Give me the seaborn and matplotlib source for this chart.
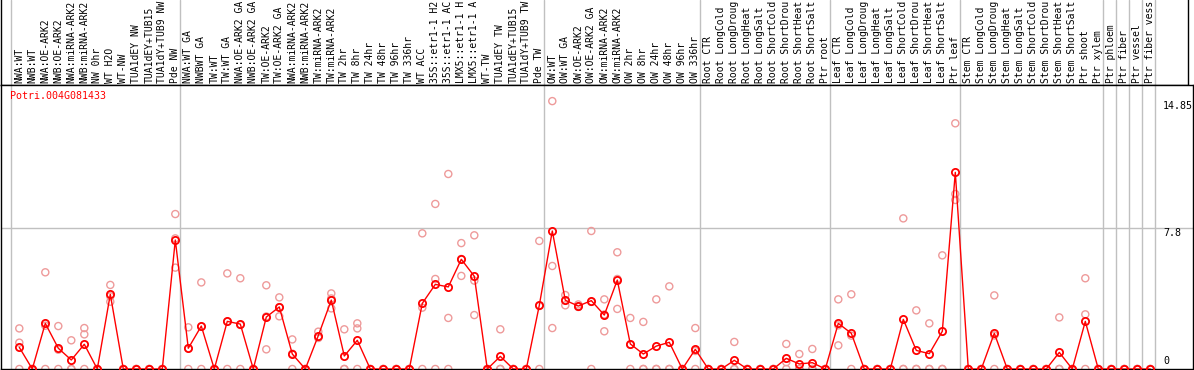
import numpy as np
import pandas as pd
import matplotlib
matplotlib.use('Agg')
import matplotlib.pyplot as plt
import matplotlib.transforms as mtransforms
import seaborn as sns

# ============================================================
# DATA
# ============================================================

GENE = 'Potri.004G081433'

SAMPLES = [
    'NWA:WT', 'NWB:WT', 'NWA:OE-ARK2', 'NWB:OE-ARK2', 'NWA:miRNA-ARK2',
    'NWB:miRNA-ARK2', 'NW 0hr', 'WT H2O', 'WT-NW', 'TUA1dEY NW',
    'TUA1dEY+TUB15', 'TUA1dY+TUB9 NW', 'Pde NW',
    'NWA:WT GA', 'NWBWT GA', 'TW:WT', 'TW:WT GA', 'NWA:OE-ARK2 GA',
    'NWB:OE-ARK2 GA', 'TW:OE-ARK2', 'TW:OE-ARK2 GA', 'NWA:miRNA-ARK2',
    'NWB:miRNA-ARK2', 'TW:miRNA-ARK2', 'TW:miRNA-ARK2', 'TW 2hr', 'TW 8hr',
    'TW 24hr', 'TW 48hr', 'TW 96hr', 'TW 336hr', 'WT ACC', '35S::etr1-1 H2',
    '35S::etr1-1 AC', 'LMX5::etr1-1 H', 'LMX5::etr1-1 A', 'WT-TW',
    'TUA1dEY TW', 'TUA1dEY+TUB15', 'TUA1dY+TUB9 TW', 'Pde TW',
    'OW:WT', 'OW:WT GA', 'OW:OE-ARK2', 'OW:OE-ARK2 GA', 'OW:miRNA-ARK2',
    'OW:miRNA-ARK2', 'OW 2hr', 'OW 8hr', 'OW 24hr', 'OW 48hr', 'OW 96hr',
    'OW 336hr',
    'Root CTR', 'Root LongCold', 'Root LongDroug', 'Root LongHeat',
    'Root LongSalt', 'Root ShortCold', 'Root ShortDrou', 'Root ShortHeat',
    'Root ShortSalt', 'Ptr root',
    'Leaf CTR', 'Leaf LongCold', 'Leaf LongDroug', 'Leaf LongHeat',
    'Leaf LongSalt', 'Leaf ShortCold', 'Leaf ShortDrou', 'Leaf ShortHeat',
    'Leaf ShortSalt', 'Ptr leaf',
    'Stem CTR', 'Stem LongCold', 'Stem LongDroug', 'Stem LongHeat',
    'Stem LongSalt', 'Stem ShortCold', 'Stem ShortDrou', 'Stem ShortHeat',
    'Stem ShortSalt', 'Ptr shoot', 'Ptr xylem',
    'Ptr phloem', 'Ptr fiber', 'Ptr vessel', 'Ptr fiber vess',
]

# index of the first sample of every group (vertical separators)
GROUP_STARTS = [0, 13, 41, 53, 63, 73, 84, 85, 86, 87, 88]

MEANS = [
    1.20, 0, 2.53, 1.15, 0.50, 1.37, 0, 4.14, 0, 0, 0, 0, 7.15,
    1.15, 2.38, 0, 2.64, 2.49, 0, 2.88, 3.44, 0.83, 0, 1.85, 3.82, 0.72,
    1.59, 0, 0, 0, 0, 3.64, 4.69, 4.55, 6.08, 5.14, 0, 0.70, 0, 0, 3.53,
    7.65, 3.81, 3.49, 3.79, 2.99, 4.93, 1.39, 0.83, 1.27, 1.48, 0, 1.09,
    0, 0, 0.48, 0, 0, 0, 0.59, 0.28, 0.35, 0,
    2.53, 1.98, 0, 0, 0, 2.75, 1.03, 0.85, 2.09, 10.90,
    0, 0, 1.98, 0, 0, 0, 0, 0.92, 0, 2.64, 0,
    0, 0, 0, 0,
]

REP_1 = [
    2.25, 0, 5.36, 2.38, 1.59, 2.27, 0, 4.66, 0, 0, 0, 0, 8.59,
    2.31, 4.80, 0, 5.30, 5.03, 0, 4.64, 3.97, 1.64, 0, 2.07, 4.19, 2.20,
    2.53, 0, 0, 0, 0, 7.52, 9.15, 10.81, 6.98, 7.41, 0, 2.20, 0, 0, 7.10,
    14.85, 4.10, 3.58, 7.65, 3.86, 6.47, 2.83, 2.61, 3.86, 4.58, 0, 2.27,
    0, 0, 1.50, 0, 0, 0, 1.39, 0.83, 1.11, 0,
    3.86, 4.14, 0, 0, 0, 8.35, 3.25, 2.53, 6.30, 13.62,
    0, 0, 4.08, 0, 0, 0, 0, 2.86, 0, 5.03, 0,
    0, 0, 0, 0,
]

REP_2 = [
    1.46, 0, 2.40, 1.07, 0, 1.92, 0, 4.03, 0, 0, 0, 0, 7.24,
    1.14, 2.34, 0, 2.62, 2.44, 0, 2.91, 3.43, 0.85, 0, 1.76, 3.91, 0,
    2.25, 0, 0, 0, 0, 3.40, 4.99, 2.83, 6.10, 4.90, 0, 0, 0, 0, 3.49,
    5.71, 3.80, 3.45, 3.72, 3.02, 4.99, 1.34, 0, 0, 0, 0, 1.00,
    0, 0, 0, 0, 0, 0, 0.38, 0, 0, 0,
    2.42, 1.85, 0, 0, 0, 0, 0, 0, 0, 9.70,
    0, 0, 1.86, 0, 0, 0, 0, 0, 0, 3.03, 0,
    0, 0, 0, 0,
]

REP_3 = [
    0, 0, 0, 0, 0, 0, 0, 3.73, 0, 0, 0, 0, 5.62,
    0, 0, 0, 0, 0, 0, 1.09, 2.92, 0, 0, 1.72, 3.36, 0,
    0, 0, 0, 0, 0, 0, 0, 0, 5.16, 2.99, 0, 0, 0, 0, 0,
    2.27, 3.53, 3.44, 0, 2.09, 3.33, 0, 0, 0, 0, 0, 0,
    0, 0, 0, 0, 0, 0, 0, 0, 0, 0,
    1.31, 0, 0, 0, 0, 0, 0, 0, 0, 9.37,
    0, 0, 0, 0, 0, 0, 0, 0, 0, 0, 0,
    0, 0, 0, 0,
]

Y_TICKS = [14.85, 7.8, 0]
Y_TICK_LABELS = ['14.85', '7.8', '0']

# ============================================================
# TABLES
# ============================================================

pos = np.arange(len(SAMPLES))
mean_df = pd.DataFrame({'pos': pos, 'value': MEANS})
rep_df = pd.concat([
    pd.DataFrame({'pos': pos, 'value': r}) for r in (REP_1, REP_2, REP_3)
], ignore_index=True)

# ============================================================
# FIGURE LAYOUT (pixel based, 1194 x 370)
# ============================================================

sns.set_style('white')
plt.rcParams['font.family'] = ['DejaVu Sans Mono', 'DejaVu Sans']

W, H = 1194, 370
X0, STEP = 19.3, 13.0          # pixel of sample 0, pixel step between samples
LAB_H = 85                     # height of label strip

fig = plt.figure(figsize=(W / 100, H / 100), dpi=100)

ax_lab = fig.add_axes([1 / W, (H - LAB_H) / H, (1188 - 1) / W, LAB_H / H])
ax = fig.add_axes([1 / W, 1 / H, (1193 - 1) / W, (H - LAB_H - 1) / H])

ax_lab.set_xlim((1 - X0) / STEP, (1188 - X0) / STEP)
ax_lab.set_ylim(0, 1)
ax.set_xlim((1 - X0) / STEP, (1193 - X0) / STEP)
ax.set_ylim(0, (H - 1 - LAB_H) / 18.04)

for a in (ax_lab, ax):
    a.set_xticks([])
    a.set_yticks([])
    a.set_xlabel('')
    a.set_ylabel('')
    for s in a.spines.values():
        s.set_color('black')
        s.set_linewidth(1.0)
    for g in GROUP_STARTS:
        a.axvline(g - 0.65, color='#c0c0c0', lw=1.0, zorder=0)
ax_lab.spines['top'].set_visible(False)

# ============================================================
# SAMPLE LABELS
# ============================================================

trans = mtransforms.blended_transform_factory(ax_lab.transData, ax_lab.transAxes)
for i, lab in enumerate(SAMPLES):
    ax_lab.text(i, 2.0 / LAB_H, lab, rotation=90, ha='center', va='bottom',
                fontsize=7, color='black', transform=trans, clip_on=False)

# ============================================================
# DATA
# ============================================================

ax.axhline(7.8, color='#c0c0c0', lw=1.0, zorder=0)

sns.scatterplot(data=rep_df, x='pos', y='value', ax=ax, marker='o', s=26,
                color='#ee9a9a', facecolor='none', edgecolor='#ee9a9a',
                linewidth=1.0, legend=False, zorder=2)

sns.lineplot(data=mean_df, x='pos', y='value', ax=ax, color='red',
             linewidth=1.0, marker='o', markersize=5.2,
             markerfacecolor='none', markeredgecolor='red',
             markeredgewidth=1.3, estimator=None, sort=False, zorder=3)
ax.set_xlabel('')
ax.set_ylabel('')

# value labels on the right side
ytrans = mtransforms.blended_transform_factory(ax.transAxes, ax.transData)
for v, t in zip(Y_TICKS, Y_TICK_LABELS):
    ax.text((1163 - 1) / (1193 - 1), v + (0.15 if v == 0 else 0), t,
            transform=ytrans, ha='left', va='bottom' if v == 0 else 'top',
            fontsize=7.2, color='black')

fig.text(10 / W, 1 - 91 / H, GENE, color='red', fontsize=7.2,
         ha='left', va='top')

fig.savefig('out.png', dpi=100)
